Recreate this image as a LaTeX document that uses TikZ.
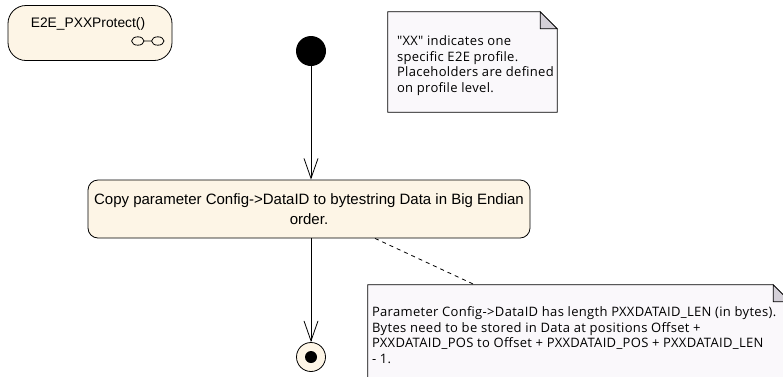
\documentclass[tikz,border=0pt]{standalone}
\usepackage{fontspec}
\setmainfont{Liberation Sans}
\newfontfamily\notefont[LetterSpace=2.5]{Open Sans}
\usetikzlibrary{arrows.meta,positioning}

\definecolor{actfill}{RGB}{253,245,230}
\definecolor{notefill}{RGB}{250,248,251}
\definecolor{foldfill}{RGB}{212,208,216}

\tikzset{
  actbox/.style={draw, fill=actfill, rounded corners=10pt, line width=0.8pt, inner sep=0pt},
  notebox/.style={inner sep=0pt},
  notetext/.style={font=\notefont\fontsize{13}{15.5}\selectfont, align=left, inner sep=0pt, anchor=north west},
  flow/.style={-{Straight Barb[length=20pt,width=14pt]}, line width=0.8pt},
  tie/.style={dash pattern=on 4pt off 4pt, line width=0.8pt},
}

\begin{document}
\begin{tikzpicture}[x=1pt, y=-1pt]
\useasboundingbox (0,0) rectangle (783,376);
\clip (0,0) rectangle (783,376);

% activity name
\node[actbox, rounded corners=18pt, minimum width=164pt, minimum height=55pt] (protect) at (90,33) {};
\node[font=\fontsize{13.8}{16}\selectfont] (protectname) at (88,24) {E2E\_PXXProtect()};
\draw[line width=0.8pt] (137.8,41) ellipse (6.2 and 4.2) (157.8,41) ellipse (6.2 and 4.2) (144,41) -- (151.6,41);

% start and action
\node[circle, fill=black, minimum size=30pt, inner sep=0pt] (start) at (311,51) {};
\node[actbox, minimum width=442pt, minimum height=58pt, align=center,
      font=\fontsize{15}{20.5}\selectfont] (copy) at (309,209)
  {Copy parameter Config->DataID to bytestring Data in Big Endian\\order.};

% end
\node[circle, draw, fill=actfill, line width=0.8pt, minimum size=29pt, inner sep=0pt] (end) at (311,357) {};
\node[circle, fill=black, minimum size=12pt, inner sep=0pt] (enddot) at (end) {};

\draw[flow] (start.south) -- (start.south |- copy.north);
\draw[flow] (copy.south -| end.north) -- (end.north);

% notes
\node[notebox, minimum width=169pt, minimum height=100pt] (xxnote) at (472.5,62) {};
\filldraw[fill=notefill, line width=0.8pt] (xxnote.north west) -- ([xshift=-17pt]xxnote.north east)
  -- ([yshift=-17pt]xxnote.north east) -- (xxnote.south east) -- (xxnote.south west) -- cycle;
\filldraw[fill=foldfill, line width=0.8pt] ([xshift=-17pt]xxnote.north east) -- ([xshift=-17pt,yshift=-17pt]xxnote.north east)
  -- ([yshift=-17pt]xxnote.north east) -- cycle;
\node[notetext] (xxtext) at ([xshift=9pt,yshift=-24pt]xxnote.north west)
  {"XX" indicates one\\specific E2E profile.\\Placeholders are defined\\on profile level.};

\node[notebox, minimum width=422pt, minimum height=100pt] (lennote) at (579,335) {};
\filldraw[fill=notefill, line width=0.8pt] (lennote.north west) -- ([xshift=-17pt]lennote.north east)
  -- ([yshift=-17pt]lennote.north east) -- (lennote.south east) -- (lennote.south west) -- cycle;
\filldraw[fill=foldfill, line width=0.8pt] ([xshift=-17pt]lennote.north east) -- ([xshift=-17pt,yshift=-17pt]lennote.north east)
  -- ([yshift=-17pt]lennote.north east) -- cycle;
\node[notetext] (lentext) at ([xshift=4pt,yshift=-22pt]lennote.north west)
  {Parameter Config->DataID has length PXXDATAID\_LEN (in bytes).\\
   Bytes need to be stored in Data at positions Offset +\\
   PXXDATAID\_POS to Offset + PXXDATAID\_POS + PXXDATAID\_LEN\\
   - 1.};

\coordinate (tiecopy) at ([xshift=66pt]copy.south);
\coordinate (tienote) at ([xshift=107pt]lennote.north west);
\draw[tie] (tiecopy) -- (tienote);
\end{tikzpicture}
\end{document}
